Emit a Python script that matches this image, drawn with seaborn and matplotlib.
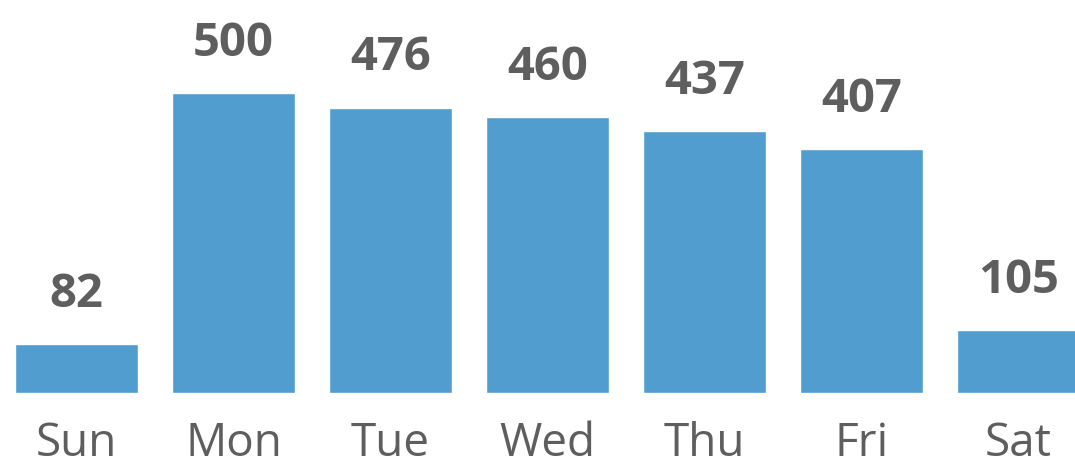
import seaborn as sns
import matplotlib.pyplot as plt
import pandas as pd

days = ['Sun', 'Mon', 'Tue', 'Wed', 'Thu', 'Fri', 'Sat']
counts = [82, 500, 476, 460, 437, 407, 105]

df = pd.DataFrame({'day': days, 'count': counts})

sns.set_style('white')
plt.rcParams['font.family'] = ['Open Sans', 'DejaVu Sans']

fig = plt.figure(figsize=(10.75, 4.65), dpi=100)
ax = fig.add_axes([0, 0.154, 1, 0.846])

sns.barplot(data=df, x='day', y='count', color='#529DD0', saturation=1,
            width=0.783, ax=ax)

# value labels above bars
ax.bar_label(ax.containers[0], padding=19, fontsize=34, fontweight='bold',
             color='#5E5E5E')

ax.set_xlim(-0.487, 6.36)
ax.set_ylim(0, 655)
ax.set_xlabel('')
ax.set_ylabel('')
ax.set_yticks([])
ax.tick_params(axis='x', length=0, pad=20, labelsize=33, labelcolor='#5E5E5E')
sns.despine(ax=ax, left=True, bottom=True)

fig.savefig('out.png', dpi=100)
